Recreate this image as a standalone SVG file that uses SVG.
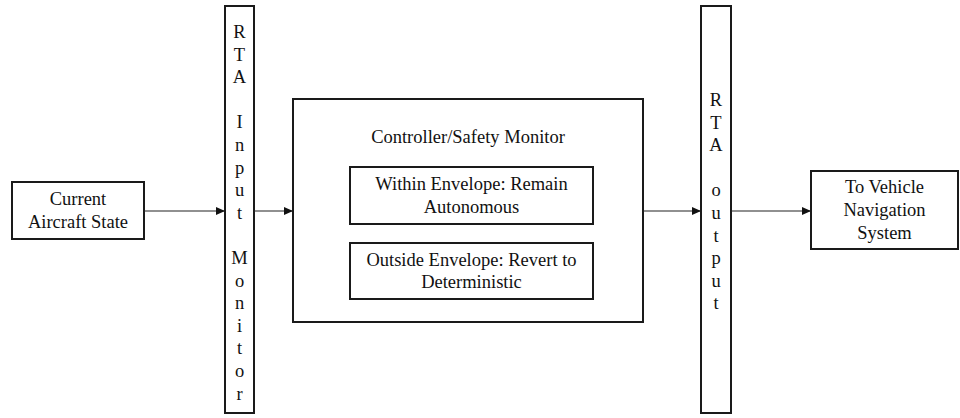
<svg xmlns="http://www.w3.org/2000/svg" width="960" height="418" viewBox="0 0 960 418">
<style>
.box{fill:#fff;stroke:#1a1a1a;stroke-width:2}
.t{font-family:"Liberation Serif","Times New Roman",serif;font-size:18.5px;fill:#111;text-anchor:middle}
.c{stroke:#222;stroke-width:1.2;fill:none}
</style>
<defs>
<marker id="ah" markerWidth="10" markerHeight="8" refX="9" refY="4" orient="auto" markerUnits="userSpaceOnUse">
<path d="M0,0 L9,4 L0,8 Z" fill="#111"/>
</marker>
</defs>
<rect width="960" height="418" fill="#fff"/>
<g id="current-state">
<rect class="box" x="12" y="182" width="132" height="57"/>
<text class="t" x="78" y="205">Current</text>
<text class="t" x="78" y="228">Aircraft State</text>
</g>
<g id="rta-input">
<rect class="box" x="225" y="6" width="29" height="407"/>
<text class="t" x="239.5" y="38">R</text>
<text class="t" x="239.5" y="60.6">T</text>
<text class="t" x="239.5" y="83.2">A</text>
<text class="t" x="239.5" y="128.4">I</text>
<text class="t" x="239.5" y="151">n</text>
<text class="t" x="239.5" y="173.6">p</text>
<text class="t" x="239.5" y="196.2">u</text>
<text class="t" x="239.5" y="218.8">t</text>
<text class="t" x="239.5" y="264">M</text>
<text class="t" x="239.5" y="286.6">o</text>
<text class="t" x="239.5" y="309.2">n</text>
<text class="t" x="239.5" y="331.8">i</text>
<text class="t" x="239.5" y="354.4">t</text>
<text class="t" x="239.5" y="377">o</text>
<text class="t" x="239.5" y="399.6">r</text>
</g>
<g id="controller">
<rect class="box" x="293" y="99" width="350" height="223"/>
<text class="t" x="468" y="143">Controller/Safety Monitor</text>
</g>
<g id="within-envelope">
<rect class="box" x="350" y="167" width="243" height="57"/>
<text class="t" x="471.5" y="190">Within Envelope: Remain</text>
<text class="t" x="471.5" y="213">Autonomous</text>
</g>
<g id="outside-envelope">
<rect class="box" x="350" y="243" width="243" height="56"/>
<text class="t" x="471.5" y="266">Outside Envelope: Revert to</text>
<text class="t" x="471.5" y="288">Deterministic</text>
</g>
<g id="rta-output">
<rect class="box" x="701" y="6" width="30" height="407"/>
<text class="t" x="716" y="106">R</text>
<text class="t" x="716" y="128.6">T</text>
<text class="t" x="716" y="151.2">A</text>
<text class="t" x="716" y="196.4">o</text>
<text class="t" x="716" y="219">u</text>
<text class="t" x="716" y="241.6">t</text>
<text class="t" x="716" y="264.2">p</text>
<text class="t" x="716" y="286.8">u</text>
<text class="t" x="716" y="309.4">t</text>
</g>
<g id="vehicle-nav">
<rect class="box" x="811" y="171" width="147" height="78"/>
<text class="t" x="884.5" y="193">To Vehicle</text>
<text class="t" x="884.5" y="216">Navigation</text>
<text class="t" x="884.5" y="239">System</text>
</g>
<g id="connectors">
<line class="c" x1="144" y1="211" x2="225" y2="211" marker-end="url(#ah)"/>
<line class="c" x1="254" y1="211" x2="293" y2="211" marker-end="url(#ah)"/>
<line class="c" x1="643" y1="211" x2="701" y2="211" marker-end="url(#ah)"/>
<line class="c" x1="731" y1="211" x2="811" y2="211" marker-end="url(#ah)"/>
</g>
</svg>
